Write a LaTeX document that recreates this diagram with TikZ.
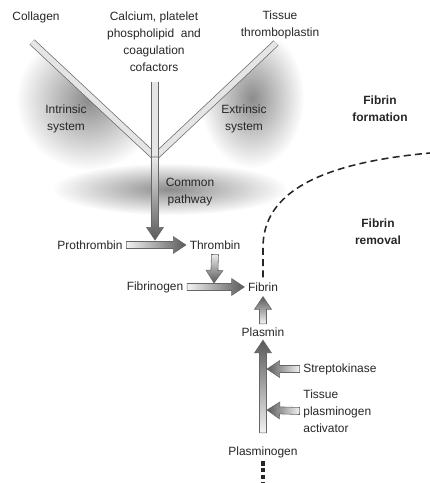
\documentclass[tikz,border=0pt]{standalone}
\usepackage{fontspec}
\setmainfont{Liberation Sans}
\usetikzlibrary{calc,fadings}

\tikzfading[name=blobfade, inner color=transparent!0, outer color=transparent!100]

\tikzset{
  lbl/.style={font=\fontsize{8.5}{12}\selectfont, text=black!85, inner sep=1.5pt, align=center},
  boldlbl/.style={lbl, font=\fontsize{8.5}{12}\selectfont\bfseries},
  pipe/.style={draw=black!60, line width=0.5pt, double=black!10, double distance=4pt},
  fat/.style={draw=black!60, line width=0.4pt},
  fat right/.style={fat, left color=black!5, right color=black!65},
  fat left/.style={fat, left color=black!65, right color=black!5},
  fat up/.style={fat, top color=black!65, bottom color=black!5},
  fat down/.style={fat, top color=black!8, bottom color=black!65},
  blob/.style={fill=black!45, path fading=blobfade},
  dashcurve/.style={draw=black!85, line width=1.1pt, dash pattern=on 5pt off 3pt},
}

% broad shaded arrow: #1 style, #2 start, #3 tip
\newcommand{\fatarrow}[3]{%
  \coordinate (fa-s) at (#2);
  \coordinate (fa-e) at (#3);
  \coordinate (fa-b) at ($(fa-e)!9pt!(fa-s)$);
  \shade[#1] ($(fa-s)!2.5pt!90:(fa-e)$) -- ($(fa-b)!2.5pt!90:(fa-e)$)
    -- ($(fa-b)!6pt!90:(fa-e)$) -- (fa-e) -- ($(fa-b)!6pt!-90:(fa-e)$)
    -- ($(fa-b)!2.5pt!-90:(fa-e)$) -- ($(fa-s)!2.5pt!-90:(fa-e)$) -- cycle;}

\begin{document}
\begin{tikzpicture}[x=0.025cm, y=-0.025cm]
  \useasboundingbox (0,0) rectangle (430,483);

  % shaded areas
  \begin{scope}
    \clip (0,12) -- (155,157) -- (155,260) -- (0,260) -- cycle;
    \fill[blob] (88,100) ellipse [x radius=72, y radius=70];
  \end{scope}
  \begin{scope}
    \clip (155,157) -- (330,-8) -- (330,260) -- (155,260) -- cycle;
    \fill[blob] (252,98) ellipse [x radius=52, y radius=70];
  \end{scope}
  \fill[blob] (170,189) ellipse [x radius=118, y radius=26];

  % pipes
  \coordinate (junc) at (155,157);
  \coordinate (colpipe) at (32,42);
  \coordinate (tispipe) at (276,43);
  \coordinate (calpipe) at (155,82);
  \coordinate (comtip) at (155,240);
  \draw[pipe] (colpipe) -- (junc) -- (tispipe);
  \draw[pipe] (calpipe) -- (junc);

  % labels
  \node[lbl] (col) at (36,17) {Collagen};
  \node[lbl] (calc) at (154,42) {Calcium, platelet\\phospholipid\ \ and\\coagulation\\cofactors};
  \node[lbl] (tis) at (280,25) {Tissue\\thromboplastin};
  \node[lbl] (intr) at (66,119) {Intrinsic\\system};
  \node[lbl] (extr) at (244,119) {Extrinsic\\system};
  \node[boldlbl] (fform) at (380,109) {Fibrin\\formation};
  \node[lbl] (common) at (190,192) {Common\\pathway};
  \node[lbl] (pro) at (90,245) {Prothrombin};
  \node[lbl] (thr) at (215,245) {Thrombin};
  \node[lbl] (fgen) at (155,287) {Fibrinogen};
  \node[lbl] (fib) at (263,287) {Fibrin};
  \node[boldlbl] (frem) at (378,232) {Fibrin\\removal};
  \node[lbl] (plm) at (263,332) {Plasmin};
  \node[lbl, anchor=west] (strep) at (301,369) {Streptokinase};
  \node[lbl, anchor=west, align=left] (tpa) at (301,411) {Tissue\\plasminogen\\activator};
  \node[lbl] (plg) at (263,452) {Plasminogen};

  % arrows
  \fatarrow{fat down}{junc}{comtip}
  \fatarrow{fat right}{[xshift=1pt]pro.east}{[xshift=-1pt]thr.west}
  \coordinate (thrtip) at (214,283);
  \fatarrow{fat down}{[yshift=-2pt]thr.south}{thrtip}
  \fatarrow{fat right}{[xshift=1pt]fgen.east}{[xshift=-1pt]fib.west}
  \fatarrow{fat up}{[yshift=1pt]plm.north}{[yshift=-2pt]fib.south}
  \fatarrow{fat up}{[yshift=8pt]plg.north}{[yshift=-1pt]plm.south}
  \coordinate (streptip) at (267,369);
  \coordinate (tpatip) at (267,410);
  \fatarrow{fat left}{[xshift=-1pt]strep.west}{streptip}
  \fatarrow{fat left}{[xshift=-1pt]tpa.west}{tpatip}

  % dashed lines
  \coordinate (dashend) at (430,153);
  \draw[dashcurve] ([yshift=2pt]fib.north) -- ++(0,-30) .. controls +(0,-55) and (320,163) .. (dashend);
  \coordinate (plgend) at (263,483);
  \draw[black!85, line width=2.4pt, dash pattern=on 3pt off 1.8pt] ([yshift=-1pt]plg.south) -- (plgend);
\end{tikzpicture}
\end{document}
